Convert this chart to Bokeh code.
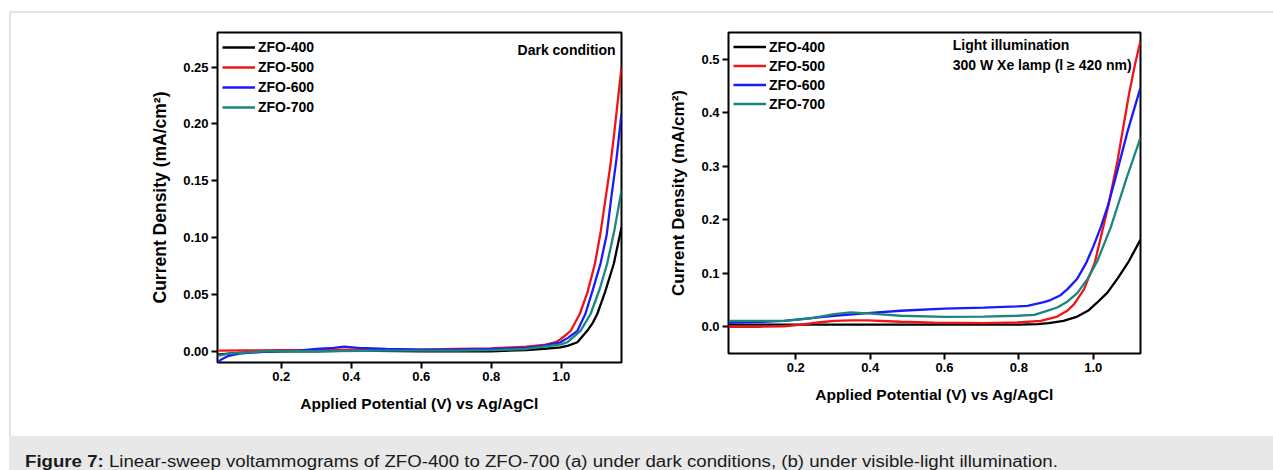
from bokeh.plotting import figure
from bokeh.models import Range1d, FixedTicker, NumeralTickFormatter, Legend, LegendItem, Label, Div, Spacer
from bokeh.layouts import row, column
from bokeh.embed import file_html
from bokeh.resources import INLINE

# ---------------- data ----------------
series_names = ["ZFO-400", "ZFO-500", "ZFO-600", "ZFO-700"]
series_colors = ["#000000", "#f01418", "#1a1aff", "#1b867f"]

# (a) dark condition
dark_x_400 = [0.018, 0.05, 0.1, 0.2, 0.3, 0.4, 0.6, 0.8, 0.9, 0.95, 0.998, 1.02, 1.046, 1.074, 1.09, 1.103, 1.125, 1.15, 1.172]
dark_y_400 = [-0.003, -0.002, -0.001, 0.0, 0.0, 0.0005, 0.0, 0.0, 0.001, 0.002, 0.0035, 0.005, 0.0079, 0.018, 0.025, 0.033, 0.052, 0.077, 0.109]

dark_x_500 = [0.018, 0.1, 0.2, 0.3, 0.4, 0.5, 0.6, 0.7, 0.8, 0.9, 0.95, 0.984, 1.0, 1.027, 1.053, 1.075, 1.096, 1.112, 1.127, 1.14, 1.152, 1.162, 1.172]
dark_y_500 = [0.0005, 0.0007, 0.001, 0.0012, 0.0015, 0.0015, 0.0015, 0.002, 0.0025, 0.004, 0.0055, 0.008, 0.011, 0.018, 0.033, 0.052, 0.077, 0.104, 0.1356, 0.163, 0.194, 0.222, 0.25]

dark_x_600 = [0.018, 0.03, 0.05, 0.08, 0.12, 0.18, 0.25, 0.3, 0.35, 0.38, 0.42, 0.5, 0.6, 0.7, 0.8, 0.9, 0.95, 0.998, 1.02, 1.046, 1.069, 1.09, 1.112, 1.13, 1.143, 1.158, 1.172]
dark_y_600 = [-0.01, -0.007, -0.004, -0.002, -0.001, 0.0, 0.0005, 0.002, 0.003, 0.004, 0.003, 0.002, 0.0015, 0.0015, 0.002, 0.003, 0.005, 0.0079, 0.012, 0.018, 0.033, 0.054, 0.077, 0.103, 0.1356, 0.17, 0.209]

dark_x_700 = [0.018, 0.05, 0.1, 0.15, 0.3, 0.5, 0.7, 0.8, 0.9, 0.95, 1.0, 1.017, 1.055, 1.084, 1.11, 1.131, 1.152, 1.172]
dark_y_700 = [-0.004, -0.002, -0.001, 0.0, 0.0, 0.0005, 0.0005, 0.001, 0.002, 0.004, 0.006, 0.0079, 0.018, 0.033, 0.055, 0.077, 0.107, 0.1415]

# (b) light illumination
light_x_400 = [0.02, 0.1, 0.2, 0.4, 0.6, 0.8, 0.85, 0.88, 0.92, 0.957, 0.988, 1.01, 1.038, 1.067, 1.096, 1.127]
light_y_400 = [0.004, 0.004, 0.004, 0.004, 0.004, 0.004, 0.005, 0.007, 0.011, 0.019, 0.031, 0.045, 0.064, 0.092, 0.123, 0.163]

light_x_500 = [0.02, 0.1, 0.169, 0.214, 0.26, 0.303, 0.35, 0.393, 0.482, 0.572, 0.706, 0.796, 0.859, 0.903, 0.93, 0.948, 0.975, 1.004, 1.04, 1.065, 1.096, 1.112, 1.127]
light_y_500 = [0.0, 0.0, 0.001, 0.004, 0.008, 0.011, 0.012, 0.012, 0.0094, 0.0075, 0.007, 0.008, 0.011, 0.019, 0.03, 0.042, 0.07, 0.12, 0.225, 0.31, 0.435, 0.49, 0.535]

light_x_600 = [0.02, 0.1, 0.169, 0.24, 0.303, 0.393, 0.482, 0.599, 0.706, 0.796, 0.823, 0.867, 0.885, 0.912, 0.93, 0.957, 0.98, 1.0, 1.02, 1.04, 1.06, 1.092, 1.127]
light_y_600 = [0.008, 0.009, 0.011, 0.016, 0.0206, 0.0256, 0.03, 0.034, 0.036, 0.038, 0.039, 0.046, 0.05, 0.059, 0.07, 0.09, 0.118, 0.15, 0.186, 0.228, 0.279, 0.365, 0.4475]

light_x_700 = [0.02, 0.1, 0.169, 0.24, 0.303, 0.348, 0.393, 0.482, 0.599, 0.706, 0.796, 0.841, 0.867, 0.903, 0.93, 0.957, 0.985, 1.011, 1.047, 1.09, 1.127]
light_y_700 = [0.011, 0.011, 0.011, 0.0156, 0.0237, 0.0268, 0.025, 0.0206, 0.0187, 0.019, 0.0206, 0.0224, 0.028, 0.036, 0.047, 0.063, 0.09, 0.123, 0.186, 0.279, 0.354]

x_ticks = [0.2, 0.4, 0.6, 0.8, 1.0]
dark_y_ticks = [0.0, 0.05, 0.10, 0.15, 0.20, 0.25]
light_y_ticks = [0.0, 0.1, 0.2, 0.3, 0.4, 0.5]

x_title = "Applied Potential (V) vs Ag/AgCl"
y_title = "Current Density (mA/cm\u00b2)"
caption_bold = "Figure 7:"
caption_text = " Linear-sweep voltammograms of ZFO-400 to ZFO-700 (a) under dark conditions, (b) under visible-light illumination."

FONT = "Liberation Sans"


def style(p, yticks, yfmt, ylabel_size):
    p.xgrid.visible = False
    p.ygrid.visible = False
    p.outline_line_color = "black"
    p.outline_line_width = 2
    p.outline_line_alpha = 1
    p.border_fill_color = "white"
    p.background_fill_color = "white"
    for ax in (p.xaxis[0], p.yaxis[0]):
        ax.axis_line_color = None
        ax.major_tick_line_color = "black"
        ax.major_tick_line_width = 2
        ax.major_tick_out = 6
        ax.major_tick_in = 0
        ax.minor_tick_line_color = None
        ax.major_label_text_font = FONT
        ax.major_label_text_font_style = "bold"
        ax.major_label_text_font_size = "13px"
        ax.major_label_text_color = "black"
        ax.axis_label_text_font = FONT
        ax.axis_label_text_font_style = "bold"
        ax.axis_label_text_color = "black"
    p.xaxis[0].axis_label_text_font_size = "15.5px"
    p.yaxis[0].axis_label_text_font_size = ylabel_size
    p.xaxis[0].ticker = FixedTicker(ticks=x_ticks)
    p.xaxis[0].formatter = NumeralTickFormatter(format="0.0")
    p.yaxis[0].ticker = FixedTicker(ticks=yticks)
    p.yaxis[0].formatter = NumeralTickFormatter(format=yfmt)
    p.xaxis[0].axis_label = x_title
    p.yaxis[0].axis_label = y_title
    p.xaxis[0].major_label_standoff = 3
    p.yaxis[0].major_label_standoff = 3
    p.xaxis[0].axis_label_standoff = 11
    p.yaxis[0].axis_label_standoff = 10


def add_lines(p, xs, ys, glyph_h, pad):
    items = []
    for name, color, x, y in zip(series_names, series_colors, xs, ys):
        r = p.line(x, y, line_color=color, line_width=2.3)
        items.append(LegendItem(label=name, renderers=[r]))
    leg = Legend(items=items, location="top_left", margin=0, padding=pad,
                 spacing=0, glyph_width=33, glyph_height=glyph_h, label_height=glyph_h,
                 label_standoff=3, label_text_font=FONT, label_text_font_style="bold",
                 label_text_font_size="14px", label_text_color="black",
                 border_line_alpha=0, background_fill_alpha=0)
    p.add_layout(leg)


# ---------------- (a) dark ----------------
p1 = figure(frame_width=404, frame_height=330, min_border_left=206, min_border_right=19,
            min_border_top=19, min_border_bottom=74,
            x_range=Range1d(0.018, 1.172), y_range=Range1d(-0.0099, 0.2805),
            output_backend="svg", toolbar_location=None)
style(p1, dark_y_ticks, "0.00", "17.5px")
add_lines(p1, [dark_x_400, dark_x_500, dark_x_600, dark_x_700],
          [dark_y_400, dark_y_500, dark_y_600, dark_y_700], 20, 5)
p1.add_layout(Label(x=1.155, y=0.2647, text="Dark condition", text_align="right",
                    text_baseline="middle", text_font=FONT, text_font_style="bold",
                    text_font_size="14px", text_color="black"))

# ---------------- (b) light ----------------
p2 = figure(frame_width=412, frame_height=321, min_border_left=88, min_border_right=133,
            min_border_top=17, min_border_bottom=85,
            x_range=Range1d(0.019, 1.127), y_range=Range1d(-0.05, 0.5505),
            output_backend="svg", toolbar_location=None)
style(p2, light_y_ticks, "0.0", "17px")
add_lines(p2, [light_x_400, light_x_500, light_x_600, light_x_700],
          [light_y_400, light_y_500, light_y_600, light_y_700], 19, 5)
p2.add_layout(Label(x=0.622, y=0.528, text="Light illumination", text_align="left",
                    text_baseline="middle", text_font=FONT, text_font_style="bold",
                    text_font_size="14px", text_color="black"))
p2.add_layout(Label(x=0.622, y=0.4904, text="300 W Xe lamp (l \u2265 420 nm)", text_align="left",
                    text_baseline="middle", text_font=FONT, text_font_style="bold",
                    text_font_size="14px", text_color="black"))

# ---------------- page frame & caption ----------------
top_gap = Spacer(width=1273, height=11, margin=0)
left_gap = Spacer(width=9, height=425, margin=0)
left_line = Div(text="", width=2, height=425, margin=0, styles={"background-color": "#e3e3e3"})
top_line = Div(text="", width=1262, height=2, margin=0, styles={"background-color": "#e3e3e3"})
charts = column(top_line, row(p1, p2, margin=0), margin=0)
upper = row(left_gap, left_line, charts, margin=0)

caption_html = ('<span style="display:inline-block;transform:scaleX(1.165);transform-origin:0 50%;">'
                "<b>" + caption_bold + "</b>" + caption_text + "</span>")
caption = Div(text=caption_html, width=1264, height=34, margin=0,
              styles={"background-color": "#e8e8e8", "font-family": "Liberation Sans, Arial, sans-serif",
                      "font-size": "16px", "color": "#1a1a1a", "padding-left": "16px",
                      "padding-top": "17px", "box-sizing": "border-box", "white-space": "nowrap",
                      "overflow": "hidden", "line-height": "18px"})
lower = row(Spacer(width=9, height=34, margin=0), caption, margin=0)

page = column(top_gap, upper, lower, margin=0)

open("out.html", "w").write(file_html(page, INLINE))
